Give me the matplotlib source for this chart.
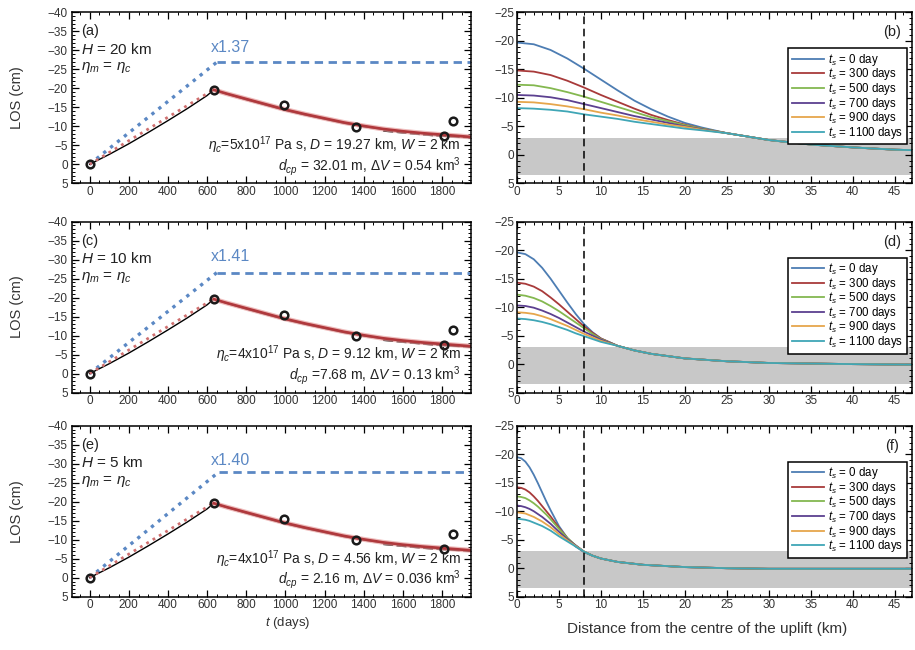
import numpy as np
import matplotlib
matplotlib.use("Agg")
import matplotlib.pyplot as plt
from matplotlib.ticker import MultipleLocator

plt.rcParams['font.family'] = ['Liberation Sans', 'DejaVu Sans']
plt.rcParams['mathtext.fontset'] = 'custom'
plt.rcParams['mathtext.rm'] = 'Liberation Sans'
plt.rcParams['mathtext.it'] = 'Liberation Sans:italic'
plt.rcParams['axes.unicode_minus'] = True

# ---------------- time series panels (a, c, e) ----------------
obs_t = [0, 634, 995, 1363, 1809, 1857]
obs_los = [0, -19.6, -15.5, -9.9, -7.5, -11.4]

rise_t = [0, 100, 200, 300, 400, 500, 600, 634]
rise_black = [0, -2.6, -5.4, -8.4, -11.5, -14.7, -18.1, -19.6]
rise_red = [0, -3.1, -6.2, -9.3, -12.4, -15.5, -18.6, -19.6]

decay_t = [634, 700, 800, 900, 1000, 1100, 1200, 1300, 1400, 1500,
           1600, 1700, 1800, 1900, 1950]
decay_red = [-19.6, -18.6, -17.2, -15.8, -14.4, -13.2, -12.1, -11.0,
             -10.1, -9.3, -8.7, -8.2, -7.8, -7.4, -7.2]
decay_black = [-19.6, -18.5, -17.0, -15.6, -14.2, -13.0, -11.9, -10.8,
               -9.9, -9.2, -8.6, -8.1, -7.6, -7.3, -7.1]
tail_t = [1500, 1600, 1750, 1950]
tail_black = [-8.8, -8.3, -7.6, -7.0]

plateau_t_a = [0, 650, 1950]
plateau_los_a = [0, -26.9, -26.9]
plateau_t_c = [0, 650, 1950]
plateau_los_c = [0, -26.6, -26.6]
plateau_t_e = [0, 659, 1950]
plateau_los_e = [0, -27.8, -27.8]

panel_tags_left = ['(a)', '(c)', '(e)']
depth_labels = [r'$H$ = 20 km', r'$H$ = 10 km', r'$H$ = 5 km']
ratio_labels = ['x1.37', 'x1.41', 'x1.40']
param_lines1 = [r'$\eta_c$=5x10$^{17}$ Pa s, $D$ = 19.27 km, $W$ = 2 km',
                r'$\eta_c$=4x10$^{17}$ Pa s, $D$ = 9.12 km, $W$ = 2 km',
                r'$\eta_c$=4x10$^{17}$ Pa s, $D$ = 4.56 km, $W$ = 2 km']
param_lines2 = [r'$d_{cp}$ = 32.01 m, $\Delta V$ = 0.54 km$^3$',
                r'$d_{cp}$ =7.68 m, $\Delta V$ = 0.13 km$^3$',
                r'$d_{cp}$ = 2.16 m, $\Delta V$ = 0.036 km$^3$']

# ---------------- profile panels (b, d, f) ----------------
legend_labels = [r'$t_s$ = 0 day', r'$t_s$ = 300 days', r'$t_s$ = 500 days',
                 r'$t_s$ = 700 days', r'$t_s$ = 900 days', r'$t_s$ = 1100 days']
curve_colors = ['#4d7db3', '#a83a3a', '#84b850', '#5c4090', '#e6a64c', '#3fa6b6']

xb = [0, 2, 4, 6, 8, 10, 12, 14, 16, 18, 20, 22, 25, 30, 35, 40, 45, 47.5]
tail_b = [-3.8, -2.6, -1.8, -1.3, -0.9, -0.8]
prof_b = [
    [-19.7, -19.4, -18.4, -16.9, -15.1, -13.2, -11.3, -9.5, -8.0, -6.7, -5.6, -4.8] + tail_b,
    [-14.8, -14.6, -14.0, -13.0, -11.8, -10.5, -9.3, -8.1, -7.0, -6.1, -5.3, -4.6] + tail_b,
    [-12.3, -12.2, -11.7, -11.0, -10.2, -9.3, -8.4, -7.5, -6.6, -5.9, -5.2, -4.6] + tail_b,
    [-10.5, -10.4, -10.1, -9.6, -8.9, -8.2, -7.5, -6.8, -6.2, -5.6, -5.0, -4.5] + tail_b,
    [-9.3, -9.2, -8.9, -8.5, -8.0, -7.4, -6.9, -6.3, -5.8, -5.3, -4.9, -4.4] + tail_b,
    [-8.2, -8.1, -7.9, -7.6, -7.1, -6.7, -6.3, -5.8, -5.4, -5.0, -4.6, -4.3] + tail_b,
]

xd = [0, 1, 2, 3, 4, 5, 6, 7, 8, 9, 10, 12, 14, 16, 20, 25, 30, 35, 40, 47.5]
tail_d = [-3.2, -2.4, -1.8, -1.0, -0.5, -0.2, -0.1, 0.0, 0.1]
prof_d = [
    [-19.6, -19.3, -18.4, -16.9, -15.0, -12.9, -10.8, -8.8, -7.0, -5.6, -4.5] + tail_d,
    [-14.3, -14.1, -13.6, -12.8, -11.7, -10.5, -9.2, -7.9, -6.6, -5.5, -4.5] + tail_d,
    [-12.2, -12.0, -11.6, -11.0, -10.2, -9.3, -8.3, -7.3, -6.3, -5.3, -4.4] + tail_d,
    [-10.3, -10.2, -9.9, -9.4, -8.8, -8.1, -7.3, -6.5, -5.7, -5.0, -4.3] + tail_d,
    [-9.1, -9.0, -8.8, -8.4, -7.9, -7.3, -6.7, -6.0, -5.3, -4.7, -4.1] + tail_d,
    [-8.0, -7.9, -7.7, -7.4, -7.0, -6.5, -6.0, -5.4, -4.9, -4.4, -3.9] + tail_d,
]

xf = [0, 0.5, 1, 1.5, 2, 2.5, 3, 3.5, 4, 5, 6, 7, 8, 9, 10, 12, 15, 20, 25, 30, 40, 47.5]
tail_f = [-2.2, -1.7, -1.1, -0.6, -0.2, 0.0, 0.1, 0.1, 0.1]
prof_f = [
    [-19.5, -19.3, -18.7, -17.7, -16.4, -14.9, -13.3, -11.7, -10.2, -7.4, -5.3, -3.8, -2.8] + tail_f,
    [-14.2, -14.1, -13.8, -13.3, -12.6, -11.8, -10.9, -10.0, -9.1, -7.1, -5.3, -3.9, -2.9] + tail_f,
    [-12.6, -12.5, -12.3, -11.9, -11.4, -10.8, -10.1, -9.4, -8.6, -6.9, -5.3, -4.0, -2.9] + tail_f,
    [-11.0, -10.9, -10.7, -10.4, -10.0, -9.5, -9.0, -8.4, -7.8, -6.4, -5.1, -4.0, -2.9] + tail_f,
    [-9.8, -9.7, -9.6, -9.3, -9.0, -8.6, -8.2, -7.7, -7.2, -6.0, -4.9, -3.9, -2.9] + tail_f,
    [-8.7, -8.6, -8.5, -8.3, -8.0, -7.7, -7.4, -7.0, -6.6, -5.6, -4.7, -3.8, -2.9] + tail_f,
]
profiles = [(xb, prof_b), (xd, prof_d), (xf, prof_f)]
panel_tags_right = ['(b)', '(d)', '(f)']

band_lo, band_hi = -3.0, 3.5
ref_distance = 8

# ---------------- figure ----------------
fig = plt.figure(figsize=(9.15, 6.5), dpi=100)
bottoms = [0.718, 0.396, 0.082]
height = 0.263
plateaus = [(plateau_t_a, plateau_los_a), (plateau_t_c, plateau_los_c),
            (plateau_t_e, plateau_los_e)]
txt_col = '#222222'


def style_ticks(ax, ypad):
    ax.tick_params(which='both', direction='in', top=True, right=True,
                   labelsize=8.5, labelcolor='#333333')
    ax.tick_params(axis='x', pad=2)
    ax.tick_params(axis='y', pad=ypad)
    ax.tick_params(which='major', length=5, width=0.9)
    ax.tick_params(which='minor', length=2.5, width=0.7)
    for s in ax.spines.values():
        s.set_linewidth(1.1)


for i in range(3):
    ax = fig.add_axes([0.0787, bottoms[i], 0.436, height])
    pt, pl = plateaus[i]
    ax.plot(pt[:2], pl[:2], ls=':', color='#5b88c4', lw=2.4)
    ax.plot(pt[1:], pl[1:], ls=(0, (3, 2)), color='#5b88c4', lw=2.0)
    ax.plot(rise_t, rise_black, color='black', lw=1.0)
    ax.plot(rise_t, rise_red, ls=':', color='#d07070', lw=2.0)
    ax.plot(decay_t, decay_black, color='black', lw=1.0)
    ax.plot(tail_t, tail_black, color='black', lw=1.2, ls=(0, (6, 2)))
    ax.plot(decay_t, decay_red, color='#e8a0a0', lw=3.6, alpha=0.7)
    ax.plot(decay_t, decay_red, color='#b0383c', lw=1.9)
    ax.plot(obs_t, obs_los, ls='none', marker='o', ms=5.5, mfc='none',
            mec='#1a1a1a', mew=1.8)

    ax.set_xlim(-90, 1948)
    ax.set_ylim(5, -40)
    ax.xaxis.set_major_locator(MultipleLocator(200))
    ax.xaxis.set_minor_locator(MultipleLocator(50))
    ax.yaxis.set_major_locator(MultipleLocator(5))
    ax.yaxis.set_minor_locator(MultipleLocator(1))
    style_ticks(ax, 3)
    ax.set_ylabel('LOS (cm)', fontsize=10.5, color='#333333')
    ax.yaxis.set_label_coords(-0.12, 0.5)

    ax.text(-45, -35, panel_tags_left[i], fontsize=10.5, color=txt_col, va='center')
    ax.text(-45, -30.2, depth_labels[i], fontsize=11, color=txt_col, va='center')
    ax.text(-45, -25.4, r'$\eta_m$ = $\eta_c$', fontsize=11, color=txt_col, va='center')
    ax.text(618, -30.8, ratio_labels[i], fontsize=11.5, color='#5b88c4', va='center')
    ax.text(1895, -5.0, param_lines1[i], fontsize=10, color=txt_col,
            ha='right', va='center')
    ax.text(1895, 0.6, param_lines2[i], fontsize=10, color=txt_col,
            ha='right', va='center')
    if i == 2:
        ax.set_xlabel(r'$t$ (days)', fontsize=9.5, color='#333333')
        ax.xaxis.set_label_coords(0.54, -0.105)

for i in range(3):
    ax = fig.add_axes([0.565, bottoms[i], 0.432, height])
    x, profs = profiles[i]
    ax.axhspan(band_lo, band_hi, color='#c8c8c8', lw=0, zorder=0)
    for prof, col, lab in zip(profs, curve_colors, legend_labels):
        ax.plot(x, prof, color=col, lw=1.3, label=lab)
    ax.axvline(ref_distance, color='black', lw=1.1, ls=(0, (5, 3)))
    ax.set_xlim(0, 47.1)
    ax.set_ylim(5, -25)
    ax.xaxis.set_major_locator(MultipleLocator(5))
    ax.xaxis.set_minor_locator(MultipleLocator(1))
    ax.yaxis.set_major_locator(MultipleLocator(5))
    ax.yaxis.set_minor_locator(MultipleLocator(1))
    style_ticks(ax, 2)
    ax.text(44.7, -21.5, panel_tags_right[i], fontsize=10.5, color=txt_col,
            ha='center', va='center')
    leg = ax.legend(loc='upper right', bbox_to_anchor=(0.987, 0.79),
                    fontsize=8.3, handlelength=2.8, handletextpad=0.4,
                    labelspacing=-0.12, borderpad=0.3, fancybox=False,
                    framealpha=1, edgecolor='black', borderaxespad=0)
    leg.get_frame().set_linewidth(1.1)
    if i == 2:
        ax.set_xlabel('Distance from the centre of the uplift (km)', fontsize=11,
                      color='#333333')
        ax.xaxis.set_label_coords(0.48, -0.15)

fig.savefig('out.png', dpi=100)
